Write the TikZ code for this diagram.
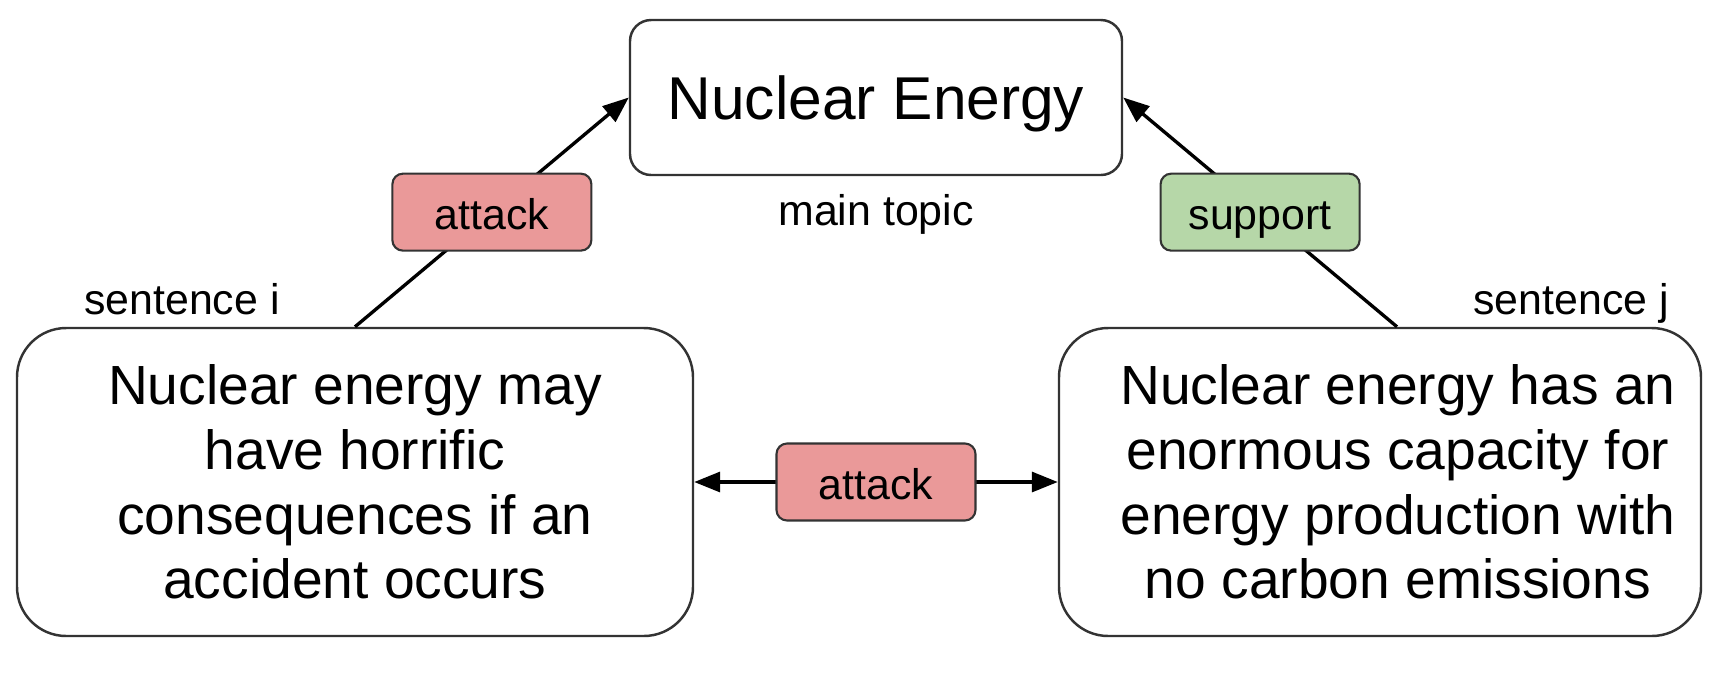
\documentclass[tikz,border=0pt]{standalone}
\usepackage{fontspec}
\setmainfont{Liberation Sans}
\usetikzlibrary{arrows.meta, positioning}

\definecolor{attackred}{HTML}{EA9999}
\definecolor{supportgreen}{HTML}{B6D7A8}
\definecolor{edgegray}{HTML}{333333}

\begin{document}
\begin{tikzpicture}[
    topic/.style={
        draw=edgegray,
        line width=0.7pt,
        rounded corners=6pt,
        align=center,
        fill=white,
        minimum width=4.92cm,
        minimum height=1.55cm,
        text depth=0pt,
        font=\fontsize{17.2}{20}\selectfont
    },
    sentence/.style={
        draw=edgegray,
        line width=0.7pt,
        rounded corners=14pt,
        fill=white,
        minimum height=3.08cm
    },
    sentencetext/.style={
        align=center,
        inner sep=0pt,
        font=\fontsize{15.7}{18.4}\selectfont
    },
    relation/.style={
        draw=edgegray,
        line width=0.6pt,
        rounded corners=3pt,
        align=center,
        minimum width=1.99cm,
        minimum height=0.77cm,
        inner sep=2pt,
        text height=9.8pt,
        text depth=0pt,
        font=\fontsize{12.2}{14}\selectfont
    },
    caption/.style={font=\fontsize{12.2}{14}\selectfont, inner sep=0pt},
    rel/.style={-{Triangle[length=2.6mm, width=2mm]}, line width=0.95pt},
    mutual/.style={{Triangle[length=2.6mm, width=2mm]}-{Triangle[length=2.6mm, width=2mm]}, line width=0.95pt}
]
    \useasboundingbox (0,0) rectangle (17.34,6.74);

    \node[topic] (topic) at (8.76,5.765) {Nuclear Energy};
    \node[caption, below=0.17cm of topic] (maintopic) {main topic};

    \node[sentence, minimum width=6.76cm] (senti) at (3.55,1.92) {};
    \node[sentencetext] (textI) at (senti.center) {
        Nuclear energy may\\
        have horrific\\
        consequences if an\\
        accident occurs
    };
    \node[sentence, minimum width=6.42cm] (sentj) at (13.80,1.92) {};
    \node[sentencetext] (textJ) at ([xshift=0.18cm]sentj.center) {
        Nuclear energy has an\\
        enormous capacity for\\
        energy production with\\
        no carbon emissions
    };

    \node[caption, anchor=base] (labelI) at (1.82,3.60) {sentence i};
    \node[caption, anchor=base] (labelJ) at (15.71,3.60) {sentence j};

    \draw[rel] (senti.north) -- node[relation, fill=attackred] (attackI) {attack} (topic.west);
    \draw[rel] ([xshift=0.17cm]sentj.north) -- node[relation, fill=supportgreen] (supportJ) {support} (topic.east);
    \draw[mutual] (senti.east) -- node[relation, fill=attackred] (attackIJ) {attack} (sentj.west);
\end{tikzpicture}
\end{document}
